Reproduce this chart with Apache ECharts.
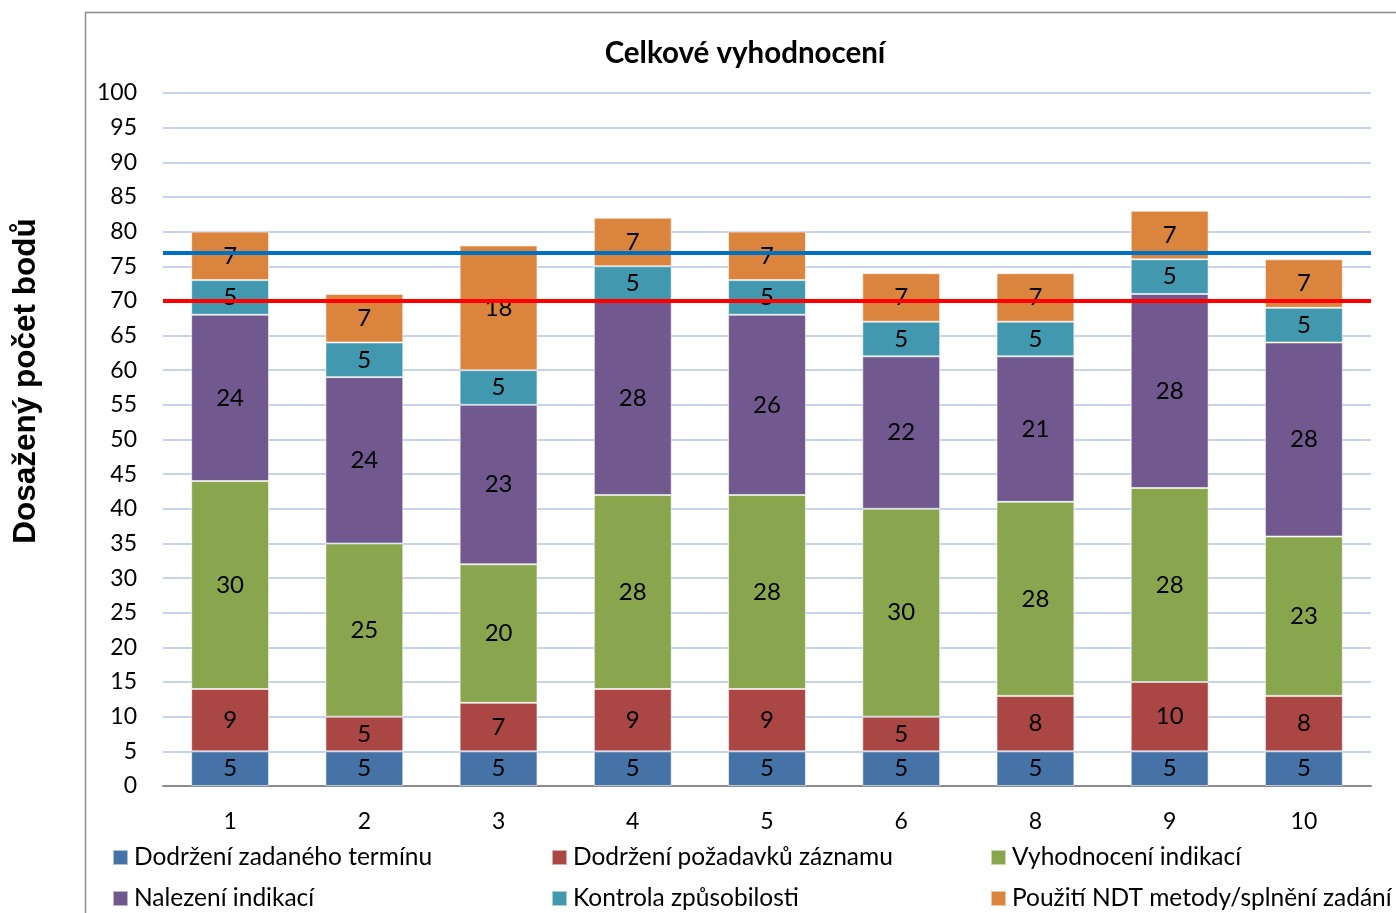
<!DOCTYPE html>
<html><head><meta charset="utf-8">
<script src="https://cdn.jsdelivr.net/npm/echarts@6/dist/echarts.min.js"></script>
<style>html,body{margin:0;padding:0;background:#fff}#c{width:1396px;height:913px}</style>
</head><body><div id="c"></div>
<script>
const categories = ['1','2','3','4','5','6','8','9','10'];
const seriesNames = ['Dodržení zadaného termínu','Dodržení požadavků záznamu','Vyhodnocení indikací','Nalezení indikací','Kontrola způsobilosti','Použití NDT metody/splnění zadání'];
const termin = [5,5,5,5,5,5,5,5,5];
const zaznam = [9,5,7,9,9,5,8,10,8];
const vyhodnoceni = [30,25,20,28,28,30,28,28,23];
const nalezeni = [24,24,23,28,26,22,21,28,28];
const kontrola = [5,5,5,5,5,5,5,5,5];
const ndt = [7,7,18,7,7,7,7,7,7];
const blueLine = 77;
const redLine = 70;
const colors = ['#4572A7','#AA4643','#89A54E','#71588F','#4198AF','#DB843D'];
const values = [termin, zaznam, vyhodnoceni, nalezeni, kontrola, ndt];
const FONT = 'Lato';

const series = values.map((v,i)=>({
  name: seriesNames[i], type:'bar', stack:'total', data:v, barCategoryGap:'42%',
  itemStyle:{color:colors[i], borderColor:'rgba(255,255,255,0.55)', borderWidth:1},
  label:{show:true, position:'inside', color:'#000', fontFamily:FONT, fontSize:24},
  emphasis:{disabled:true}
}));
series[0].markLine = {
  silent:true, symbol:'none', label:{show:false},
  data:[
    {yAxis:blueLine, lineStyle:{color:'#0070C0', width:4, type:'solid'}},
    {yAxis:redLine, lineStyle:{color:'#FF0000', width:4, type:'solid'}}
  ]
};

const legendPos = [[112,845],[551,845],[990,845],[112,886],[551,886],[990,886]];
const legends = seriesNames.map((n,i)=>({
  data:[n], left:legendPos[i][0], top:legendPos[i][1], itemWidth:15, itemHeight:15, itemGap:5,
  padding:0, icon:'rect', textStyle:{fontFamily:FONT, fontSize:24.5, color:'#000', padding:[0,0,0,1]}, selectedMode:false
}));

const chart = echarts.init(document.getElementById('c'));
chart.setOption({
  animation:false,
  grid:{left:163, right:25, top:93, bottom:127},
  legend:legends,
  graphic:[
    {type:'polyline', shape:{points:[[85.5,913],[85.5,12.5],[1396,12.5]]}, style:{stroke:'#8c8c8c', lineWidth:1.5, fill:null}},
    {type:'text', x:745, y:53, style:{text:'Celkové vyhodnocení', font:'bold 29.5px Lato', fill:'#000', textAlign:'center', textVerticalAlign:'middle'}},
    {type:'text', x:26, y:381, rotation:Math.PI/2, style:{text:'Dosažený počet bodů', font:'bold 31.5px "Liberation Sans", Arial, sans-serif', fill:'#000', textAlign:'center', textVerticalAlign:'middle'}}
  ],
  xAxis:{type:'category', data:categories,
    axisLine:{lineStyle:{color:'#8c8c8c', width:2}}, axisTick:{show:false},
    axisLabel:{color:'#000', fontFamily:FONT, fontSize:23, margin:24}},
  yAxis:{type:'value', min:0, max:100, interval:5,
    axisLine:{show:false}, axisTick:{show:false},
    axisLabel:{color:'#000', fontFamily:FONT, fontSize:23, margin:26},
    splitLine:{lineStyle:{color:'#C5D3EC', width:2}}},
  series:series
});
</script></body></html>
